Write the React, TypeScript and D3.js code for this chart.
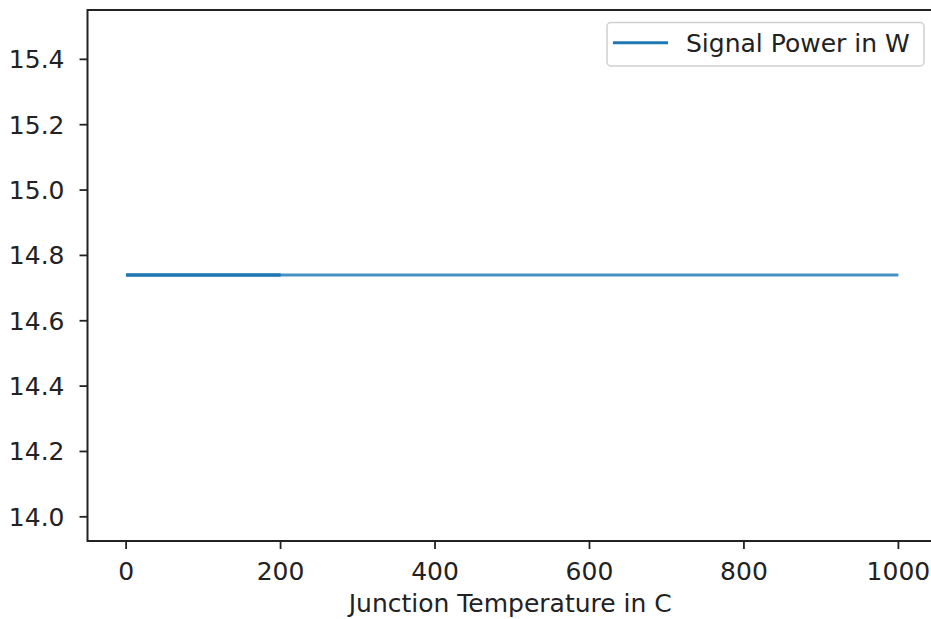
import React from "react";
import * as d3 from "d3";

// Junction temperature sweep (°C) and resulting signal power (W)
const temperatures = [0, 200, 0, 1000];
const signalPower = [14.74, 14.74, 14.74, 14.74];
const xTicks = [0, 200, 400, 600, 800, 1000];
const yTicks = [14.0, 14.2, 14.4, 14.6, 14.8, 15.0, 15.2, 15.4];
const seriesLabel = "Signal Power in W";
const xLabel = "Junction Temperature in C";

const W = 931;
const H = 619;
const FONT = "'DejaVu Sans', sans-serif";
const FS = 25;

export default function App() {
  const left = 87.5;
  const right = 937;
  const top = 10;
  const bottom = 541;

  const x = d3.scaleLinear().domain([-50, 1050]).range([left, right]);
  const y = d3.scaleLinear().domain([13.926, 15.551]).range([bottom, top]);

  const pts = temperatures.map((t, i) => [t, signalPower[i]] as [number, number]);
  const segments = pts.slice(1).map((p, i) => [pts[i], p]);
  const line = d3
    .line<[number, number]>()
    .x((d) => x(d[0]))
    .y((d) => y(d[1]));

  const lineColor = "#1f77b4";

  return (
    <svg
      width={W}
      height={H}
      viewBox={`0 0 ${W} ${H}`}
      style={{ position: "absolute", left: 0, top: 0, background: "#fff" }}
      fontFamily={FONT}
    >
      <rect x={0} y={0} width={W} height={H} fill="#fff" />
      <g>
        {segments.map((s, i) => (
          <path
            key={i}
            d={line(s) || ""}
            fill="none"
            stroke={lineColor}
            strokeOpacity={0.82}
            strokeWidth={3}
            strokeLinecap="butt"
          />
        ))}
      </g>

      {/* frame */}
      <rect
        x={left}
        y={top}
        width={right - left}
        height={bottom - top}
        fill="none"
        stroke="#222"
        strokeWidth={2}
      />

      {/* x axis ticks */}
      {xTicks.map((t) => (
        <g key={t} transform={`translate(${x(t)},0)`}>
          <line y1={bottom} y2={bottom + 8} stroke="#222" strokeWidth={1.8} />
          <text
            y={bottom + 39}
            textAnchor="middle"
            fontSize={FS}
            fill="#222"
          >
            {d3.format("d")(t)}
          </text>
        </g>
      ))}
      <text
        x={(x(0) + x(1000)) / 2 - 2}
        y={612}
        textAnchor="middle"
        fontSize={FS}
        fill="#222"
      >
        {xLabel}
      </text>

      {/* y axis ticks */}
      {yTicks.map((t) => (
        <g key={t} transform={`translate(0,${y(t)})`}>
          <line x1={left - 8} x2={left} stroke="#222" strokeWidth={1.8} />
          <text
            x={left - 23}
            dy="0.36em"
            textAnchor="end"
            fontSize={FS}
            fill="#222"
          >
            {d3.format(".1f")(t)}
          </text>
        </g>
      ))}

      {/* legend */}
      <g>
        <rect
          x={607}
          y={22.5}
          width={317}
          height={43.5}
          rx={4}
          fill="#fff"
          fillOpacity={0.8}
          stroke="#d0d0d0"
          strokeWidth={1.5}
        />
        <line
          x1={613}
          x2={668}
          y1={42.7}
          y2={42.7}
          stroke={lineColor}
          strokeWidth={3}
        />
        <text x={686} y={52} fontSize={FS} fill="#222">
          {seriesLabel}
        </text>
      </g>
    </svg>
  );
}
